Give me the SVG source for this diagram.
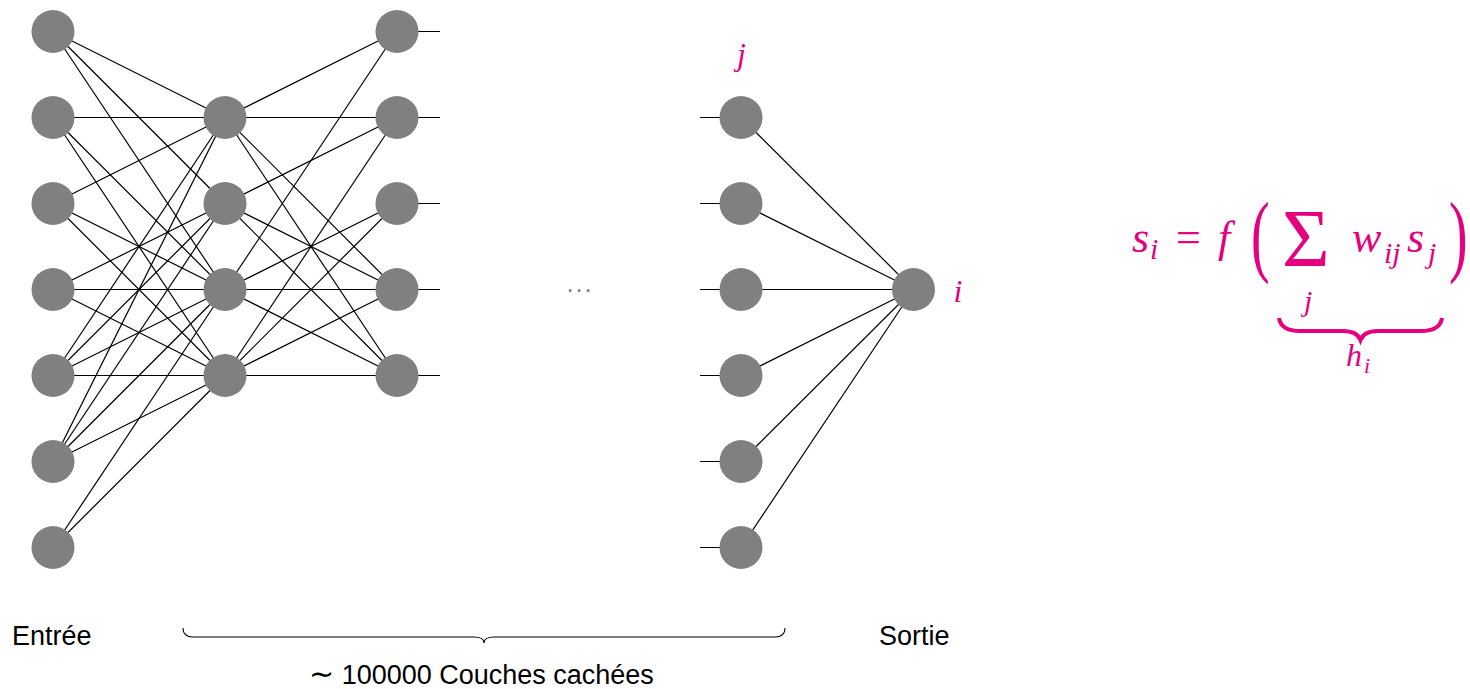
<svg xmlns="http://www.w3.org/2000/svg" width="1470" height="689" viewBox="0 0 1470 689">
<style>
.n{fill:#808080}
.e line{stroke:#000;stroke-width:1.2}
.lbl{font-family:'Liberation Sans',Arial,sans-serif;font-size:27px;fill:#000}
.m{font-style:italic;fill:#e6007e}
.mr{fill:#e6007e}
</style>
<rect width="1470" height="689" fill="#fff"/>
<g id="connectors" class="e">
<line x1="53" y1="31.5" x2="225" y2="117.5"/>
<line x1="53" y1="31.5" x2="225" y2="203.5"/>
<line x1="53" y1="31.5" x2="225" y2="289.5"/>
<line x1="53" y1="117.5" x2="225" y2="117.5"/>
<line x1="53" y1="117.5" x2="225" y2="289.5"/>
<line x1="53" y1="117.5" x2="225" y2="375.5"/>
<line x1="53" y1="203.5" x2="225" y2="117.5"/>
<line x1="53" y1="203.5" x2="225" y2="289.5"/>
<line x1="53" y1="203.5" x2="225" y2="375.5"/>
<line x1="53" y1="289.5" x2="225" y2="203.5"/>
<line x1="53" y1="289.5" x2="225" y2="289.5"/>
<line x1="53" y1="289.5" x2="225" y2="375.5"/>
<line x1="53" y1="375.5" x2="225" y2="117.5"/>
<line x1="53" y1="375.5" x2="225" y2="203.5"/>
<line x1="53" y1="375.5" x2="225" y2="289.5"/>
<line x1="53" y1="375.5" x2="225" y2="375.5"/>
<line x1="53" y1="461.5" x2="225" y2="117.5"/>
<line x1="53" y1="461.5" x2="225" y2="203.5"/>
<line x1="53" y1="461.5" x2="225" y2="289.5"/>
<line x1="53" y1="461.5" x2="225" y2="375.5"/>
<line x1="53" y1="547.5" x2="225" y2="289.5"/>
<line x1="53" y1="547.5" x2="225" y2="375.5"/>
<line x1="225" y1="117.5" x2="397" y2="31.5"/>
<line x1="225" y1="117.5" x2="397" y2="117.5"/>
<line x1="225" y1="117.5" x2="397" y2="289.5"/>
<line x1="225" y1="117.5" x2="397" y2="375.5"/>
<line x1="225" y1="203.5" x2="397" y2="117.5"/>
<line x1="225" y1="203.5" x2="397" y2="289.5"/>
<line x1="225" y1="203.5" x2="397" y2="375.5"/>
<line x1="225" y1="289.5" x2="397" y2="31.5"/>
<line x1="225" y1="289.5" x2="397" y2="203.5"/>
<line x1="225" y1="289.5" x2="397" y2="289.5"/>
<line x1="225" y1="289.5" x2="397" y2="375.5"/>
<line x1="225" y1="375.5" x2="397" y2="117.5"/>
<line x1="225" y1="375.5" x2="397" y2="203.5"/>
<line x1="225" y1="375.5" x2="397" y2="289.5"/>
<line x1="225" y1="375.5" x2="397" y2="375.5"/>
<line x1="397" y1="31.5" x2="440" y2="31.5"/>
<line x1="397" y1="117.5" x2="440" y2="117.5"/>
<line x1="397" y1="203.5" x2="440" y2="203.5"/>
<line x1="397" y1="289.5" x2="440" y2="289.5"/>
<line x1="397" y1="375.5" x2="440" y2="375.5"/>
<line x1="700" y1="117.5" x2="741" y2="117.5"/>
<line x1="700" y1="203.5" x2="741" y2="203.5"/>
<line x1="700" y1="289.5" x2="741" y2="289.5"/>
<line x1="700" y1="375.5" x2="741" y2="375.5"/>
<line x1="700" y1="461.5" x2="741" y2="461.5"/>
<line x1="700" y1="547.5" x2="741" y2="547.5"/>
<line x1="741" y1="117.5" x2="913.5" y2="289.5"/>
<line x1="741" y1="203.5" x2="913.5" y2="289.5"/>
<line x1="741" y1="289.5" x2="913.5" y2="289.5"/>
<line x1="741" y1="375.5" x2="913.5" y2="289.5"/>
<line x1="741" y1="461.5" x2="913.5" y2="289.5"/>
<line x1="741" y1="547.5" x2="913.5" y2="289.5"/>
</g>
<g id="input-layer">
<circle id="in1" class="n" cx="53" cy="31.5" r="21.5"/>
<circle id="in2" class="n" cx="53" cy="117.5" r="21.5"/>
<circle id="in3" class="n" cx="53" cy="203.5" r="21.5"/>
<circle id="in4" class="n" cx="53" cy="289.5" r="21.5"/>
<circle id="in5" class="n" cx="53" cy="375.5" r="21.5"/>
<circle id="in6" class="n" cx="53" cy="461.5" r="21.5"/>
<circle id="in7" class="n" cx="53" cy="547.5" r="21.5"/>
</g>
<g id="hidden1">
<circle id="h1" class="n" cx="225" cy="117.5" r="21.5"/>
<circle id="h2" class="n" cx="225" cy="203.5" r="21.5"/>
<circle id="h3" class="n" cx="225" cy="289.5" r="21.5"/>
<circle id="h4" class="n" cx="225" cy="375.5" r="21.5"/>
</g>
<g id="hidden2">
<circle id="g1" class="n" cx="397" cy="31.5" r="21.5"/>
<circle id="g2" class="n" cx="397" cy="117.5" r="21.5"/>
<circle id="g3" class="n" cx="397" cy="203.5" r="21.5"/>
<circle id="g4" class="n" cx="397" cy="289.5" r="21.5"/>
<circle id="g5" class="n" cx="397" cy="375.5" r="21.5"/>
</g>
<g id="last-hidden">
<circle id="l1" class="n" cx="741" cy="117.5" r="21.5"/>
<circle id="l2" class="n" cx="741" cy="203.5" r="21.5"/>
<circle id="l3" class="n" cx="741" cy="289.5" r="21.5"/>
<circle id="l4" class="n" cx="741" cy="375.5" r="21.5"/>
<circle id="l5" class="n" cx="741" cy="461.5" r="21.5"/>
<circle id="l6" class="n" cx="741" cy="547.5" r="21.5"/>
</g>
<g id="output">
<circle id="out" class="n" cx="913.5" cy="289.5" r="21.5"/>
</g>
<g id="dots">
<text x="566.4" y="292" font-family="Liberation Sans, Arial, sans-serif" font-size="26" fill="#808080" letter-spacing="1.8">...</text>
</g>
<g id="labels" font-family="Liberation Serif, Times New Roman, serif">
<text class="m" x="741.5" y="65" font-size="32" text-anchor="middle">j</text>
<text class="m" x="958" y="302" font-size="32" text-anchor="middle">i</text>
<text class="lbl" x="12" y="645">Entrée</text>
<text class="lbl" x="879" y="645">Sortie</text>
<text class="lbl" x="309" y="684"><tspan font-family="DejaVu Sans, sans-serif" font-size="30">∼</tspan> 100000 Couches cachées</text>
<path d="M183,628 Q183,637 193,637 L474,637 Q484,637 484,643 Q484,637 494,637 L775,637 Q785,637 785,628" fill="none" stroke="#000" stroke-width="1.1"/>
</g>
<g id="formula" font-family="Liberation Serif, Times New Roman, serif">
<text class="m" x="1132" y="252" font-size="44">s</text>
<text class="m" x="1150" y="259" font-size="30">i</text>
<text class="mr" x="1176" y="252" font-size="44">=</text>
<text class="m" x="1218" y="252" font-size="44">f</text>
<text class="mr" transform="translate(1251,265) scale(0.62,1)" font-size="90">(</text>
<text class="mr" x="1282" y="266" font-size="82">Σ</text>
<text class="m" x="1304" y="311" font-size="30">j</text>
<text class="m" x="1352" y="252" font-size="44">w</text>
<text class="m" x="1384" y="263" font-size="30">ij</text>
<text class="m" x="1407" y="252" font-size="44">s</text>
<text class="m" x="1428" y="263" font-size="30">j</text>
<text class="mr" transform="translate(1449,265) scale(0.62,1)" font-size="90">)</text>
<path d="M1279,318 Q1281,331 1300,331 L1343,331 Q1357,331 1360.5,340 Q1364,331 1378,331 L1421,331 Q1440,331 1442,318" fill="none" stroke="#e6007e" stroke-width="4"/>
<text class="m" x="1346" y="366" font-size="32">h</text>
<text class="m" x="1364" y="373" font-size="22">i</text>
</g>
</svg>
